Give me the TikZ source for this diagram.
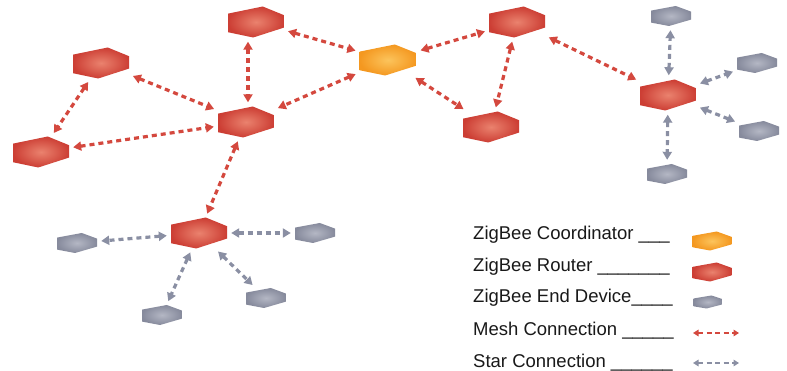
\documentclass[tikz,border=0pt]{standalone}
\usepackage{fontspec}
\setmainfont{Liberation Sans}
\usetikzlibrary{arrows.meta}
\definecolor{rin}{RGB}{234,130,110}
\definecolor{rout}{RGB}{204,62,52}
\definecolor{cin}{RGB}{252,196,92}
\definecolor{cout}{RGB}{244,152,32}
\definecolor{gin}{RGB}{180,183,196}
\definecolor{gout}{RGB}{134,138,156}
\definecolor{meshc}{RGB}{212,72,62}
\definecolor{starc}{RGB}{138,143,163}
\tikzset{
  hexbase/.style n args={4}{inner sep=0pt, minimum width=#1pt, minimum height=#2pt,
    path picture={\shade[inner color=#3, outer color=#4, shift={(path picture bounding box.center)}, x=#1pt, y=#2pt]
      (-0.5,0.27) -- (0.12,0.5) -- (0.5,0.22) -- (0.5,-0.18) -- (-0.05,-0.5) -- (-0.5,-0.33) -- cycle;}},
  router/.style={hexbase={56}{31}{rin}{rout}},
  coord/.style={hexbase={57}{31}{cin}{cout}},
  enddev/.style={hexbase={40}{20}{gin}{gout}},
  lrouter/.style={hexbase={39}{19}{rin}{rout}},
  lcoord/.style={hexbase={39}{19}{cin}{cout}},
  lenddev/.style={hexbase={29}{13}{gin}{gout}},
  mesh/.style={draw=meshc, line width=3.2pt, dash pattern=on 5pt off 4pt,
    {Triangle[length=8pt,width=9pt]}-{Triangle[length=8pt,width=9pt]}, shorten >=4pt, shorten <=4pt},
  star/.style={draw=starc, line width=3.2pt, dash pattern=on 5pt off 4pt,
    {Triangle[length=8pt,width=9pt]}-{Triangle[length=8pt,width=9pt]}, shorten >=4pt, shorten <=4pt},
  lmesh/.style={draw=meshc, line width=2.2pt, dash pattern=on 5pt off 3.5pt,
    {Triangle[length=5.5pt,width=6.5pt]}-{Triangle[length=5.5pt,width=6.5pt]}},
  lstar/.style={draw=starc, line width=2.2pt, dash pattern=on 5pt off 3.5pt,
    {Triangle[length=5.5pt,width=6.5pt]}-{Triangle[length=5.5pt,width=6.5pt]}},
  legtext/.style={anchor=base west, inner sep=0pt, font=\fontsize{18.5}{22}\selectfont, text=black!90}
}
\begin{document}
\begin{tikzpicture}[x=1pt,y=-1pt]
\useasboundingbox[fill=white] (0,0) rectangle (787,371);
% routers
\node[router] (R1) at (256,22) {};
\node[router] (R2) at (101,63) {};
\node[router] (R3) at (41,152) {};
\node[router] (R4) at (246,122) {};
\node[router] (R5) at (517,22) {};
\node[router] (R6) at (491,127) {};
\node[router] (R7) at (668,95) {};
\node[router] (R8) at (199,233) {};
\node[coord] (C) at (388,60) {};
% end devices
\node[enddev] (E1) at (671,16) {};
\node[enddev] (E2) at (757,63) {};
\node[enddev] (E3) at (759,131) {};
\node[enddev] (E4) at (667,174) {};
\node[enddev] (E5) at (77,243) {};
\node[enddev] (E6) at (315,233) {};
\node[enddev] (E7) at (162,315) {};
\node[enddev] (E8) at (266,298) {};
% mesh connections
\draw[mesh] (R2) -- (R3);
\draw[mesh] (R2) -- (R4);
\draw[mesh] (R3) -- (R4);
\draw[mesh] ([xshift=-8pt]R1.south) -- ([xshift=2pt]R4.north);
\draw[mesh] (R1) -- (C);
\draw[mesh] (C) -- (R4);
\draw[mesh] (C) -- (R5);
\draw[mesh] (C) -- (R6);
\draw[mesh] (R5) -- (R6);
\draw[mesh] (R5) -- (R7);
\draw[mesh] (R4) -- (R8);
% star connections
\draw[star] (R7) -- (E1);
\draw[star] (R7) -- (E2);
\draw[star] (R7) -- (E3);
\draw[star] (R7) -- (E4);
\draw[star] (R8) -- (E5);
\draw[star] (R8) -- (E6);
\draw[star] (R8) -- (E7);
\draw[star] (R8) -- (E8);
% legend
\node[legtext] (L1) at (473,240) {ZigBee Coordinator \_\_\_};
\node[legtext] (L2) at (473,272) {ZigBee Router \_\_\_\_\_\_\_};
\node[legtext] (L3) at (473,303) {ZigBee End Device\_\_\_\_};
\node[legtext] (L4) at (473,335) {Mesh Connection \_\_\_\_\_};
\node[legtext] (L5) at (473,367) {Star Connection \_\_\_\_\_\_};
\node[lcoord] (LC) at (712,241) {};
\node[lrouter] (LR) at (712,272) {};
\node[lenddev] (LE) at (708,302) {};
\coordinate (m1) at (693,333);
\coordinate (m2) at (739,333);
\coordinate (s1) at (693,363);
\coordinate (s2) at (739,363);
\draw[lmesh] (m1) -- (m2);
\draw[lstar] (s1) -- (s2);
\end{tikzpicture}
\end{document}
